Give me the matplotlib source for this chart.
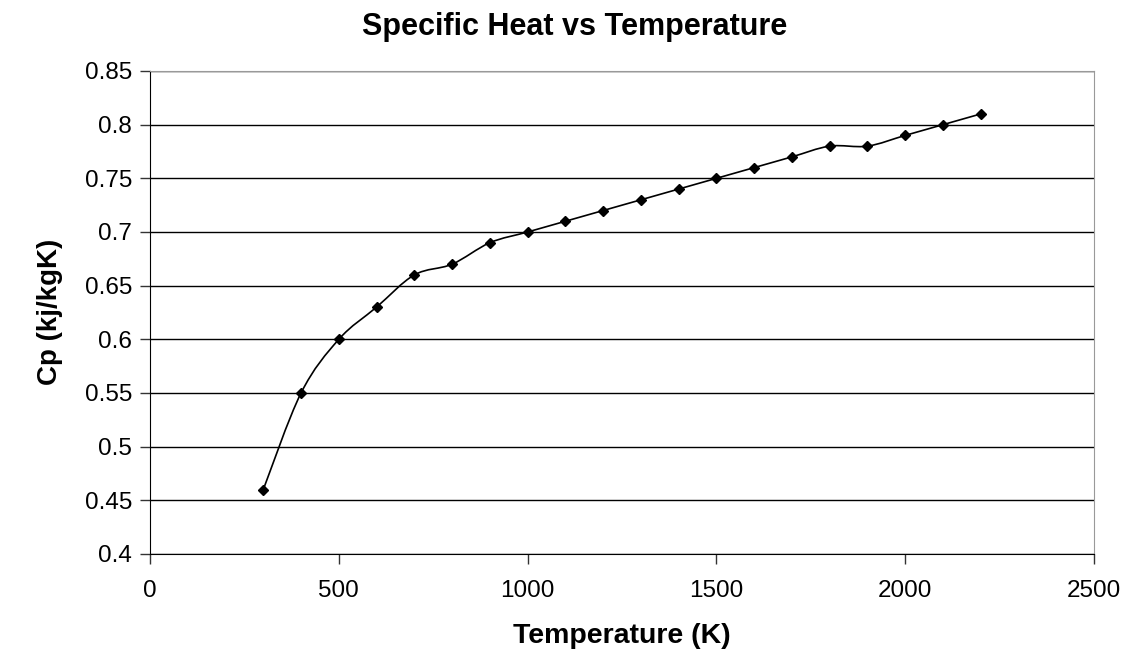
import matplotlib.pyplot as plt
import numpy as np
from matplotlib.path import Path
from matplotlib.patches import PathPatch

plt.rcParams['font.family'] = ['Liberation Sans', 'DejaVu Sans']

# Data
temperature = [300, 400, 500, 600, 700, 800, 900, 1000, 1100, 1200,
               1300, 1400, 1500, 1600, 1700, 1800, 1900, 2000, 2100, 2200]
cp = [0.46, 0.55, 0.60, 0.63, 0.66, 0.67, 0.69, 0.70, 0.71, 0.72,
      0.73, 0.74, 0.75, 0.76, 0.77, 0.78, 0.78, 0.79, 0.80, 0.81]
x_ticks = [0, 500, 1000, 1500, 2000, 2500]
y_ticks = [0.4, 0.45, 0.5, 0.55, 0.6, 0.65, 0.7, 0.75, 0.8, 0.85]
y_tick_labels = ['0.4', '0.45', '0.5', '0.55', '0.6', '0.65', '0.7', '0.75', '0.8', '0.85']

fig = plt.figure(figsize=(11.27, 6.53), dpi=100)
ax = fig.add_axes([150 / 1127, 1 - 554 / 653, (1094 - 150) / 1127, (554 - 71) / 653])

ax.set_xlim(0, 2500)
ax.set_ylim(0.4, 0.85)

# Smoothed line (Excel-style cubic Bezier), drawn in display space
def smooth_path(xs, ys):
    pts = ax.transData.transform(np.column_stack([xs, ys]))
    n = len(pts)
    verts = [pts[0]]
    codes = [Path.MOVETO]
    for i in range(n - 1):
        p0 = pts[i - 1] if i > 0 else pts[i]
        p1 = pts[i]
        p2 = pts[i + 1]
        p3 = pts[i + 2] if i + 2 < n else pts[i + 1]
        c1 = p1 + (p2 - p0) / 6
        c2 = p2 - (p3 - p1) / 6
        verts += [c1, c2, p2]
        codes += [Path.CURVE4] * 3
    return Path(verts, codes)

patch = PathPatch(smooth_path(temperature, cp), facecolor='none', edgecolor='black',
                  lw=1.2, transform=None, zorder=3)
ax.add_artist(patch)
ax.plot(temperature, cp, linestyle='none', marker='D', markersize=5.5, color='black', zorder=4)

ax.set_xticks(x_ticks)
ax.set_yticks(y_ticks)
ax.set_yticklabels(y_tick_labels)
ax.tick_params(direction='out', length=7, width=1, labelsize=17.5, color='#333333', pad=6)
ax.tick_params(axis='x', pad=12)

ax.set_axisbelow(True)
ax.yaxis.grid(True, color='black', linewidth=1)

for side in ['top', 'right']:
    ax.spines[side].set_color('#999999')
for side in ['left', 'bottom']:
    ax.spines[side].set_color('black')

fig.text(575 / 1127, 1 - 27 / 653, 'Specific Heat vs Temperature', ha='center', va='center',
         fontsize=22, fontweight='bold')
fig.text(622 / 1127, 1 - 636 / 653, 'Temperature (K)', ha='center', va='center',
         fontsize=20.5, fontweight='bold')
fig.text(50 / 1127, 1 - 312 / 653, 'Cp (kj/kgK)', ha='center', va='center',
         rotation=90, fontsize=20, fontweight='bold')

plt.savefig('out.png', dpi=100)
